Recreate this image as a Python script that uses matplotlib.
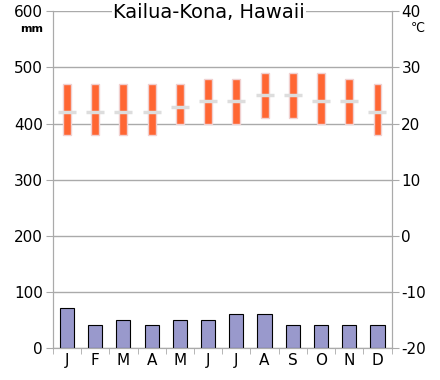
import numpy as np
import matplotlib.pyplot as plt

plt.rcParams["axes.unicode_minus"] = False

months = ["J", "F", "M", "A", "M", "J", "J", "A", "S", "O", "N", "D"]
precip = [70, 40, 50, 40, 50, 50, 60, 60, 40, 40, 40, 40]
t_high = [27, 27, 27, 27, 27, 28, 28, 29, 29, 29, 28, 27]
t_low = [18, 18, 18, 18, 20, 20, 20, 21, 21, 20, 20, 18]
t_mean = [22, 22, 22, 22, 23, 24, 24, 25, 25, 24, 24, 22]

x = np.arange(len(months))
grey = "#aaaaaa"

fig = plt.figure(figsize=(4.4, 3.8), dpi=100)
ax = fig.add_axes([0.12, 0.085, 0.77, 0.885])
ax2 = ax.twinx()

ax.bar(x, precip, width=0.5, color="#9999cc", edgecolor="black", linewidth=0.8, zorder=3)
ax.set_ylim(0, 600)
ax.set_xlim(-0.5, 11.5)
ax.set_yticks(range(0, 601, 100))
ax.yaxis.grid(True, color=grey, linewidth=1)
ax.set_axisbelow(True)
ax.set_xticks(x)
ax.set_xticklabels(months)
ax.set_xticks(np.arange(-0.5, 12, 1), minor=True)
ax.tick_params(axis="x", which="major", length=0, labelsize=11, pad=4)
ax.tick_params(axis="x", which="minor", length=4, color=grey)
ax.tick_params(axis="y", length=5, color=grey, labelsize=11, pad=2)

ax2.bar(x, np.array(t_high) - np.array(t_low), bottom=t_low, width=0.28,
        color="#ff6633", edgecolor="#f0d0d0", linewidth=1, zorder=3)
ax2.scatter(x, t_mean, marker="_", s=150, color="#dddddd", linewidths=2.5, zorder=4)
ax2.set_ylim(-20, 40)
ax2.set_yticks(range(-20, 41, 10))
ax2.tick_params(axis="y", length=5, color=grey, labelsize=11, pad=2)

for a in (ax, ax2):
    for s in a.spines.values():
        s.set_color(grey)
    a.spines["top"].set_visible(False)

fig.text(0.045, 0.915, "mm", fontsize=8, fontweight="bold", ha="left")
fig.text(0.965, 0.915, "\u2103", fontsize=9, ha="right")
fig.text(0.475, 0.966, "Kailua-Kona, Hawaii", fontsize=14, ha="center", va="center",
         bbox=dict(facecolor="white", edgecolor="none", pad=1))

fig.savefig("out.png", dpi=100)
